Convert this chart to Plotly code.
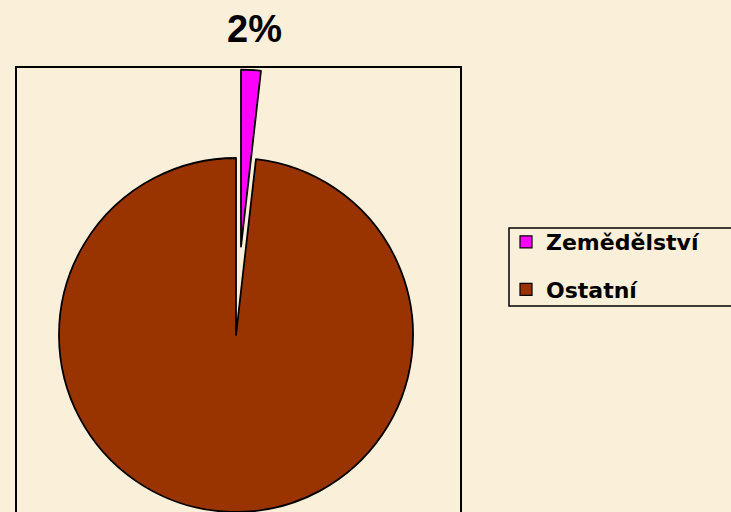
import math
import plotly.graph_objects as go

# ---- data ----
categories = ["Zemědělství", "Ostatní"]
values = [1.8, 98.2]
colors = ["#FF00FF", "#993300"]
pulls = [0.5, 0.0]

# ---- layout constants (pixels) ----
W, H = 731, 512
BG = "#FAF0DA"
R = 177                      # pie radius in px
CX, CY = 236, H - R          # main pie centre (px from left / top)

def dom(cx, cy, r):
    return dict(x=[(cx - r) / W, (cx + r) / W],
                y=[1 - (cy + r) / H, 1 - (cy - r) / H])

total = sum(values)
fig = go.Figure()

# legend-only traces (tiny, hidden under the main pie)
for i, (lab, col) in enumerate(zip(categories, colors)):
    fig.add_trace(go.Pie(
        labels=[lab], values=[values[i]], sort=False,
        marker=dict(colors=[col], line=dict(color="black", width=1.2)),
        domain=dom(CX, CY, 0.05), textinfo="none", hoverinfo="skip",
        legendgroup=f"g{i}", showlegend=True,
    ))

# main pie (slices that are not pulled)
fig.add_trace(go.Pie(
    labels=categories, values=values, sort=False, direction="clockwise", rotation=0,
    marker=dict(colors=[c if p == 0 else "rgba(0,0,0,0)" for c, p in zip(colors, pulls)],
                line=dict(color="black", width=[1.8 if p == 0 else 0 for p in pulls])),
    domain=dom(CX, CY, R), textinfo="none", hoverinfo="skip", showlegend=False,
))

# exploded slices
cum = 0
for i, (v, p) in enumerate(zip(values, pulls)):
    frac0 = cum / total
    cum += v
    frac1 = cum / total
    if p == 0:
        continue
    mid = (frac0 + frac1) / 2 * 2 * math.pi
    ox, oy = p * R * math.sin(mid), -p * R * math.cos(mid)
    fig.add_trace(go.Pie(
        labels=categories, values=values, sort=False, direction="clockwise", rotation=0,
        marker=dict(colors=[colors[j] if j == i else "rgba(0,0,0,0)" for j in range(len(values))],
                    line=dict(color="black", width=[1.8 if j == i else 0 for j in range(len(values))])),
        domain=dom(CX + ox, CY + oy, R), textinfo="none", hoverinfo="skip", showlegend=False,
    ))
    pct = round(v / total * 100)
    fig.add_annotation(
        x=(CX + ox + 13) / W, y=1 - 29 / H, xref="paper", yref="paper",
        xanchor="center", yanchor="middle",
        text=f"{pct}%", showarrow=False,
        font=dict(family="Liberation Sans, Arial", size=38, color="black", weight="bold"),
    )

# plot-area frame
fig.add_shape(type="rect", xref="paper", yref="paper",
              x0=16 / W, x1=461 / W, y0=-0.05, y1=1 - 67 / H,
              line=dict(color="black", width=2), fillcolor="rgba(0,0,0,0)", layer="below")

# legend frame (runs off the right edge as in the original)
fig.add_shape(type="rect", xref="paper", yref="paper",
              x0=509 / W, x1=1.05, y0=1 - 306 / H, y1=1 - 228 / H,
              line=dict(color="black", width=1.5), fillcolor="rgba(0,0,0,0)", layer="below")

fig.update_layout(
    width=W, height=H,
    margin=dict(l=0, r=0, t=0, b=0),
    paper_bgcolor=BG, plot_bgcolor=BG,
    showlegend=True,
    legend=dict(
        x=506 / W, y=1 - 221 / H, xanchor="left", yanchor="top",
        bgcolor="rgba(0,0,0,0)", borderwidth=0,
        font=dict(family="DejaVu Sans", size=22, color="black", weight="bold"),
        tracegroupgap=16, traceorder="grouped",
    ),
)

fig.write_html("out.html", config={"displayModeBar": False},
               post_script="document.body.style.margin='0';")
